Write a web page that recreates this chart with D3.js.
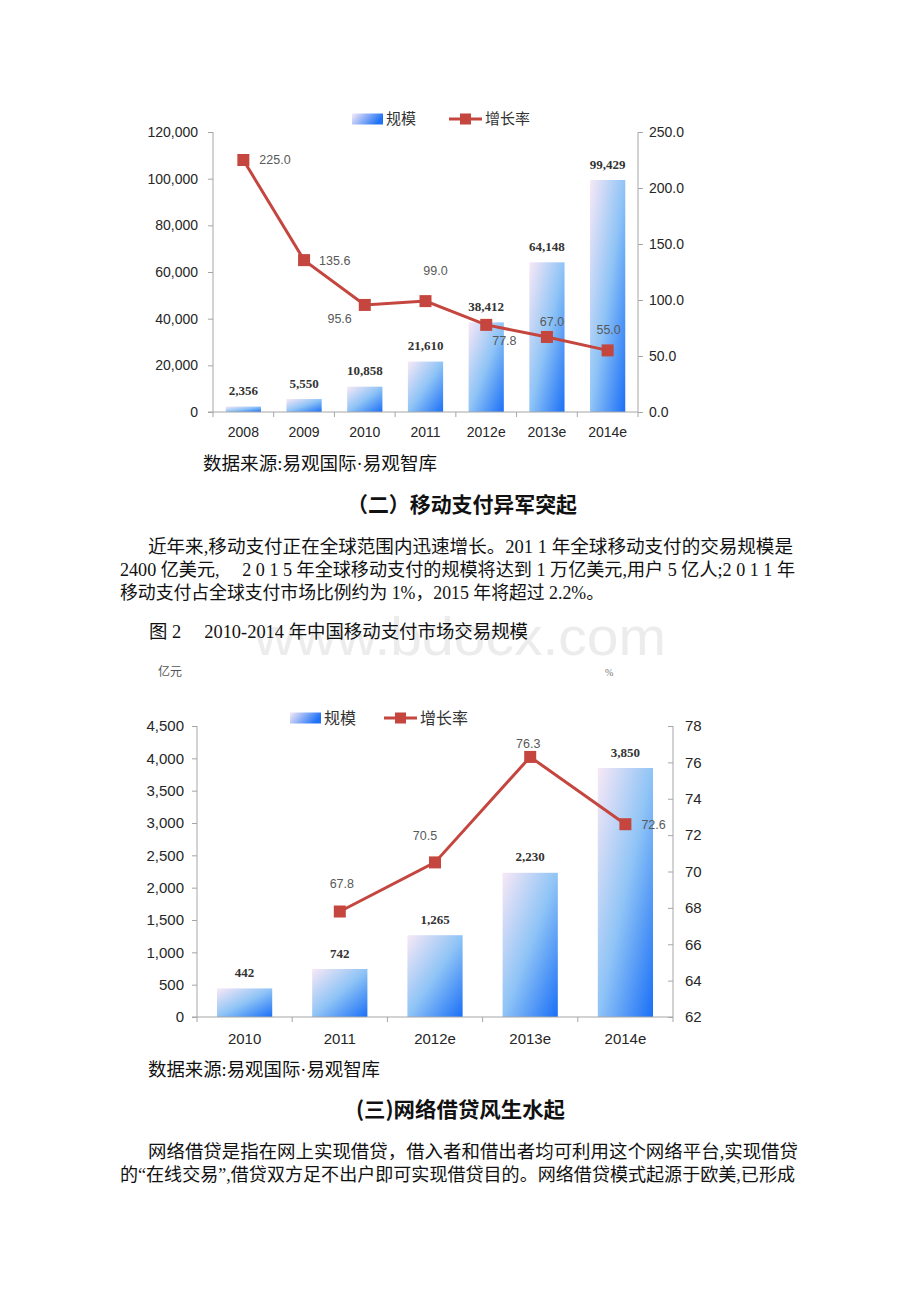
<!DOCTYPE html>
<html lang="zh">
<head>
<meta charset="UTF-8">
<title>移动支付市场交易规模</title>
<script src="https://d3js.org/d3.v7.min.js"></script>
<style>
  body { margin: 0; background: #ffffff; }
  svg { display: block; }
  .axis path, .axis line { stroke: #a6a6a6; }
  .axis text { font-family: "Liberation Sans", Arial, sans-serif; fill: #262626; }
  .body { font-family: "Liberation Serif", "Noto Sans CJK SC", serif; fill: #111; }
  .head { font-family: "Noto Sans CJK SC", sans-serif; font-weight: bold; fill: #111; }
</style>
</head>
<body>
<svg id="page" width="920" height="1302"></svg>
<script>
// chart 1 (global mobile payment, 2008-2014e)
const years1 = ["2008", "2009", "2010", "2011", "2012e", "2013e", "2014e"];
const size1 = [2356, 5550, 10858, 21610, 38412, 64148, 99429];
const growth1 = [225.0, 135.6, 95.6, 99.0, 77.8, 67.0, 55.0];
const leftTicks1 = [0, 20000, 40000, 60000, 80000, 100000, 120000];
const rightTicks1 = [0, 50, 100, 150, 200, 250];

// chart 2 (China mobile payment, 2010-2014e)
const years2 = ["2010", "2011", "2012e", "2013e", "2014e"];
const size2 = [442, 742, 1265, 2230, 3850];
const growth2 = [null, 67.8, 70.5, 76.3, 72.6];
const leftTicks2 = [0, 500, 1000, 1500, 2000, 2500, 3000, 3500, 4000, 4500];
const rightTicks2 = [62, 64, 66, 68, 70, 72, 74, 76, 78];

const legendNames = ["规模", "增长率"];

// where each growth label sits relative to its marker: [dx, dy, anchor]
const labelPos1 = [[16, 0, "start"], [15, 0, "start"], [-13, 14, "end"], [10, -30, "middle"],
                   [6, 16, "start"], [5, -15, "middle"], [1, -21, "middle"]];
const labelPos2 = [null, [2, -28, "middle"], [-10, -27, "middle"], [-2, -13, "middle"], [16, 0, "start"]];

const RED = "#c4463f";
const svg = d3.select("#page");
svg.append("rect").attr("width", 920).attr("height", 1302).attr("fill", "#fff");

const defs = svg.append("defs");
const barGrad = defs.append("linearGradient").attr("id", "barGrad")
  .attr("x1", 0).attr("y1", 0).attr("x2", 1).attr("y2", 1);
barGrad.append("stop").attr("offset", "0%").attr("stop-color", "#f8e8f6");
barGrad.append("stop").attr("offset", "50%").attr("stop-color", "#8fc4f6");
barGrad.append("stop").attr("offset", "100%").attr("stop-color", "#1a6ff7");
const legGrad = defs.append("linearGradient").attr("id", "legGrad")
  .attr("x1", 0).attr("y1", 0).attr("x2", 1).attr("y2", 0.3);
legGrad.append("stop").attr("offset", "0%").attr("stop-color", "#f6eaf8");
legGrad.append("stop").attr("offset", "100%").attr("stop-color", "#1f72f5");

function drawChart(o) {
  const g = svg.append("g");
  const x = d3.scaleBand().domain(o.years).range([o.x0, o.x1]).paddingInner(0.42).paddingOuter(0.21);
  const yL = d3.scaleLinear().domain(d3.extent(o.leftTicks)).range([o.yB, o.yT]);
  const yR = d3.scaleLinear().domain(d3.extent(o.rightTicks)).range([o.yB, o.yT]);

  // bars
  g.selectAll("rect.bar").data(o.size).join("rect")
    .attr("x", (d, i) => x(o.years[i]))
    .attr("y", d => yL(d))
    .attr("width", x.bandwidth())
    .attr("height", d => o.yB - yL(d))
    .attr("fill", "url(#barGrad)");

  // axes
  const ax = g.append("g").attr("class", "axis").attr("transform", `translate(${o.x0},0)`)
    .call(d3.axisLeft(yL).tickValues(o.leftTicks).tickSize(5).tickPadding(o.pad).tickFormat(d3.format(",")));
  ax.selectAll("text").attr("font-size", o.fs);
  const ar = g.append("g").attr("class", "axis").attr("transform", `translate(${o.x1},0)`)
    .call(d3.axisRight(yR).tickValues(o.rightTicks).tickSize(o.rightTickIn ? -5 : 5).tickPadding(o.rightTickIn ? 12 : 6).tickFormat(o.rightFmt));
  ar.selectAll("text").attr("font-size", o.fs);
  [ax, ar].forEach(a => a.select(".domain").attr("d", `M0,${o.yT}V${o.yB}`));

  const bx = g.append("g").attr("class", "axis").attr("transform", `translate(0,${o.yB})`)
    .call(d3.axisBottom(x).tickSize(0).tickPadding(o.xPad));
  bx.select(".domain").attr("d", `M${o.x0 - 5},0H${o.x1}`);
  bx.selectAll("text").attr("font-size", o.fs);
  const step = x.step();
  bx.selectAll("line.sep").data(d3.range(o.years.length + 1)).join("line")
    .attr("class", "sep")
    .attr("x1", i => o.x0 + i * step).attr("x2", i => o.x0 + i * step)
    .attr("y1", 0).attr("y2", 5)
    .attr("stroke", "#a6a6a6");

  // bar labels
  g.selectAll("text.blab").data(o.size).join("text")
    .attr("x", (d, i) => x(o.years[i]) + x.bandwidth() / 2)
    .attr("y", d => yL(d) - 16)
    .attr("dy", "0.35em")
    .attr("text-anchor", "middle")
    .attr("font-family", "Liberation Serif, serif")
    .attr("font-weight", "bold")
    .attr("font-size", 13)
    .attr("fill", "#333")
    .text(d => d3.format(",")(d));

  // growth line
  const pts = o.growth.map((v, i) => ({ v, i })).filter(d => d.v !== null);
  const cx = d => x(o.years[d.i]) + x.bandwidth() / 2;
  g.append("path").datum(pts)
    .attr("d", d3.line().x(cx).y(d => yR(d.v)))
    .attr("fill", "none").attr("stroke", RED).attr("stroke-width", 3);
  g.selectAll("rect.mk").data(pts).join("rect")
    .attr("x", d => cx(d) - 6).attr("y", d => yR(d.v) - 6)
    .attr("width", 12).attr("height", 12).attr("fill", RED);
  g.selectAll("text.glab").data(pts).join("text")
    .attr("x", d => cx(d) + o.labelPos[d.i][0])
    .attr("y", d => yR(d.v) + o.labelPos[d.i][1])
    .attr("dy", "0.35em")
    .attr("text-anchor", d => o.labelPos[d.i][2])
    .attr("font-family", "Liberation Sans, Arial, sans-serif")
    .attr("font-size", 12.5)
    .attr("fill", "#595959")
    .text(d => d3.format(".1f")(d.v));

  // legend
  const L = o.legend;
  g.append("rect").attr("x", L.x).attr("y", L.y - 5.5).attr("width", 31).attr("height", 11)
    .attr("fill", "url(#legGrad)");
  g.append("text").attr("x", L.x + 34).attr("y", L.y).attr("dy", "0.35em")
    .attr("font-family", "Noto Sans CJK SC").attr("font-size", L.fs).attr("fill", "#333")
    .text(legendNames[0]);
  g.append("line").attr("x1", L.x2).attr("x2", L.x2 + 33).attr("y1", L.y).attr("y2", L.y)
    .attr("stroke", RED).attr("stroke-width", 3);
  g.append("rect").attr("x", L.x2 + 11).attr("y", L.y - 5.5).attr("width", 11).attr("height", 11).attr("fill", RED);
  g.append("text").attr("x", L.x2 + 36).attr("y", L.y).attr("dy", "0.35em")
    .attr("font-family", "Noto Sans CJK SC").attr("font-size", L.fs).attr("fill", "#333")
    .text(legendNames[1]);
}

drawChart({
  years: years1, size: size1, growth: growth1, leftTicks: leftTicks1, rightTicks: rightTicks1,
  x0: 213, x1: 638, yT: 132, yB: 412, fs: 14, pad: 10, xPad: 15, rightFmt: d3.format(".1f"),
  labelPos: labelPos1, legend: { x: 352, x2: 449, y: 119, fs: 15 }
});
drawChart({
  years: years2, size: size2, growth: growth2, leftTicks: leftTicks2, rightTicks: rightTicks2,
  x0: 197, x1: 673, yT: 726, yB: 1017, fs: 15, pad: 8, xPad: 16, rightFmt: d3.format("d"), rightTickIn: true,
  labelPos: labelPos2, legend: { x: 290, x2: 384, y: 718, fs: 16 }
});

// page text
function txt(s, x, y, opt = {}) {
  const t = svg.append("text").attr("x", x).attr("y", y).attr("dy", "0.35em")
    .attr("class", opt.cls || "body").attr("font-size", opt.fs || 18)
    .attr("text-anchor", opt.anchor || "start").text(s);
  if (opt.len) t.attr("textLength", opt.len).attr("lengthAdjust", "spacingAndGlyphs");
  if (opt.fill) t.style("fill", opt.fill);
  return t;
}

// faint watermark behind the figure caption
txt("www.bdocx.com", 254, 636, { cls: "wm", fs: 54, len: 412, fill: "#ececec" })
  .attr("font-family", "Liberation Sans, Arial, sans-serif");

txt("数据来源:易观国际·易观智库", 203, 464, { fs: 18, len: 234 });
txt("（二）移动支付异军突起", 347, 505, { cls: "head", fs: 21, len: 230 });
txt("近年来,移动支付正在全球范围内迅速增长。201 1 年全球移动支付的交易规模是", 148, 547, { len: 645 });
txt("2400 亿美元,　 2 0 1 5 年全球移动支付的规模将达到 1 万亿美元,用户 5 亿人;2 0 1 1 年", 120, 570, { len: 675 });
txt("移动支付占全球支付市场比例约为 1%，2015 年将超过 2.2%。", 120, 593, { len: 484 });
txt("图 2　 2010-2014 年中国移动支付市场交易规模", 149, 632, { len: 379 });
txt("亿元", 158, 672, { fs: 12, fill: "#555" }).attr("font-family", "Noto Sans CJK SC");
txt("%", 605, 672, { fs: 10, fill: "#777" }).attr("font-family", "Liberation Sans");
txt("数据来源:易观国际·易观智库", 148, 1070, { fs: 18, len: 232 });
txt("(三)网络借贷风生水起", 356, 1110, { cls: "head", fs: 21, len: 209 });
txt("网络借贷是指在网上实现借贷，借入者和借出者均可利用这个网络平台,实现借贷", 148, 1152, { len: 650 });
txt("的“在线交易”,借贷双方足不出户即可实现借贷目的。网络借贷模式起源于欧美,已形成", 120, 1175, { len: 675 });
</script>
</body>
</html>
